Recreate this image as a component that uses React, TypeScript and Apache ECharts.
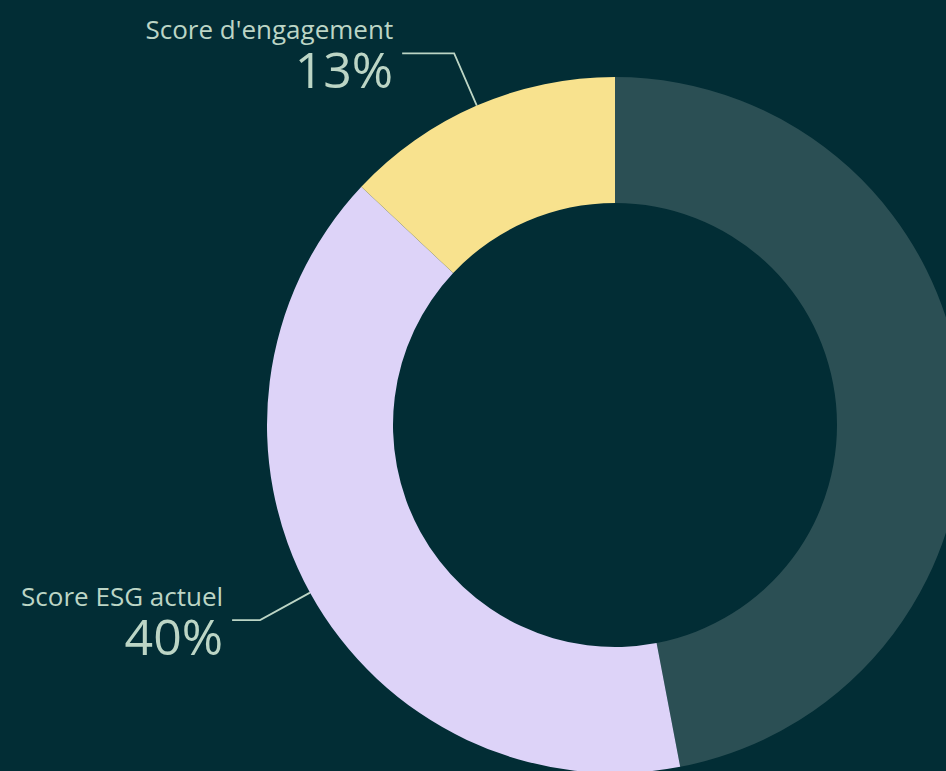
import React, { useEffect, useRef } from "react";
import * as echarts from "echarts";

const categories = ["Reste", "Score ESG actuel", "Score d'engagement"];
const values = [47, 40, 13];
const colors = ["#2b4f54", "#ddd3f8", "#f8e28e"];
const showLabel = [false, true, true];
const secondLineLength = [0, 28, 52];

export default function App() {
  const ref = useRef<HTMLDivElement>(null);
  useEffect(() => {
    if (!ref.current) return;
    const chart = echarts.init(ref.current, undefined, { renderer: "svg" });
    const textColor = "#bcd5c5";
    chart.setOption({
      animation: false,
      backgroundColor: "#022d35",
      series: [
        {
          type: "pie",
          center: [615, 425],
          radius: [222, 348],
          startAngle: 90,
          clockwise: true,
          avoidLabelOverlap: false,
          label: {
            show: true,
            position: "outside",
            distanceToLabelLine: 9,
            formatter: (p: any) => `{n|${p.name}}\n{v|${p.value}%}`,
            color: textColor,
            fontFamily: "Open Sans",
            align: "right",
            rich: {
              n: {
                fontSize: 26,
                fontFamily: "Open Sans",
                color: textColor,
                lineHeight: 32,
                align: "right",
              },
              v: {
                fontSize: 50,
                fontWeight: 400,
                fontFamily: "Open Sans",
                color: textColor,
                lineHeight: 48,
                align: "right",
              },
            },
          },
          labelLine: {
            show: true,
            length: 57,
            length2: 40,
            lineStyle: { color: textColor, width: 1.8 },
          },
          data: categories.map((c, i) => ({
            name: c,
            value: values[i],
            itemStyle: { color: colors[i] },
            label: { show: showLabel[i] },
            labelLine: { show: showLabel[i], length2: secondLineLength[i] },
            emphasis: { disabled: true },
          })),
        },
      ],
    });
    return () => chart.dispose();
  }, []);
  return (
    <div
      ref={ref}
      style={{ position: "fixed", left: 0, top: 0, width: 946, height: 771 }}
    />
  );
}
